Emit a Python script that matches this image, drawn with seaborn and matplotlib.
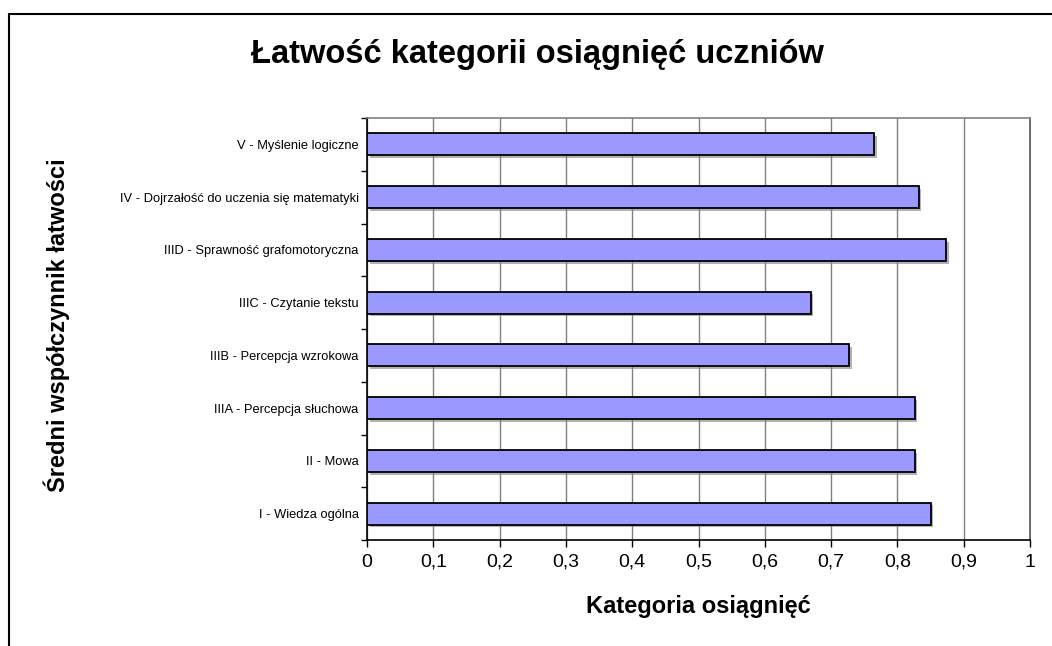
import matplotlib
matplotlib.use("Agg")
import matplotlib.pyplot as plt
import matplotlib.patheffects as pe
from matplotlib.lines import Line2D
from matplotlib.ticker import FixedLocator, FuncFormatter
import seaborn as sns
import pandas as pd
import numpy as np

categories = [
    "I - Wiedza ogólna",
    "II - Mowa",
    "IIIA - Percepcja słuchowa",
    "IIIB - Percepcja wzrokowa",
    "IIIC - Czytanie tekstu",
    "IIID - Sprawność grafomotoryczna",
    "IV - Dojrzałość do uczenia się matematyki",
    "V - Myślenie logiczne",
]
values = [0.850, 0.826, 0.826, 0.727, 0.669, 0.874, 0.832, 0.765]
x_ticks = [0, 0.1, 0.2, 0.3, 0.4, 0.5, 0.6, 0.7, 0.8, 0.9, 1]

title = "Łatwość kategorii osiągnięć uczniów"
xlabel = "Kategoria osiągnięć"
ylabel = "Średni współczynnik łatwości"

sns.set_theme(style="white")
plt.rcParams['font.family'] = ['Liberation Sans', 'DejaVu Sans']
plt.rcParams['text.color'] = 'black'
plt.rcParams['xtick.color'] = 'black'
plt.rcParams['ytick.color'] = 'black'

df = pd.DataFrame({"cat": categories, "val": values})
order = categories[::-1]

fig = plt.figure(figsize=(10.52, 6.46), dpi=100)
ax = fig.add_axes([367/1052, 1-540/646, (1030-367)/1052, (540-118)/646])

sns.barplot(data=df, x="val", y="cat", order=order, orient="h",
            color="#9999FF", saturation=1, width=0.42,
            edgecolor="black", linewidth=1.3, ax=ax, zorder=3)
for p in ax.patches:
    p.set_path_effects([pe.SimplePatchShadow(offset=(2, -2), shadow_rgbFace="#808080", alpha=0.6),
                        pe.Normal()])

ax.set_xlim(0, 1)
ax.set_ylim(len(categories) - 0.5, -0.5)
ax.set_xticks(x_ticks)
ax.xaxis.set_major_formatter(FuncFormatter(lambda v, p: ("%g" % v).replace(".", ",")))
ax.tick_params(axis="x", direction="out", length=5, width=1, color="black",
               labelsize=14, pad=5, bottom=True, labelcolor="black")
ax.grid(axis="x", color="#808080", linewidth=1, zorder=0)
ax.grid(axis="y", visible=False)
ax.set_axisbelow(True)

ax.tick_params(axis="y", which="major", length=0, pad=6, labelcolor="black")
ax.yaxis.set_minor_locator(FixedLocator(np.arange(-0.5, len(categories), 1.0)))
ax.tick_params(axis="y", which="minor", direction="out", length=4, width=1,
               color="black", left=True)
for lbl in ax.get_yticklabels():
    lbl.set_fontsize(9.3)
    lbl.set_color("black")

for s in ["top", "right"]:
    ax.spines[s].set_visible(True)
    ax.spines[s].set_color("#808080")
    ax.spines[s].set_linewidth(1.2)
ax.spines["right"].set_color("#555555")
for s in ["left", "bottom"]:
    ax.spines[s].set_color("black")
    ax.spines[s].set_linewidth(1.2)

ax.set_xlabel("")
ax.set_ylabel("")
fig.text(698/1052, 1-606/646, xlabel, ha="center", va="center",
         fontsize=17, fontweight="bold", color="black")
fig.text(57/1052, 1-325/646, ylabel, ha="center", va="center",
         rotation=90, fontsize=17, fontweight="bold", color="black")
fig.text(537/1052, 1-55/646, title, ha="center", va="center",
         fontsize=23.5, fontweight="bold", color="black")

x0 = 8.5/1052
y0 = 1 - 13.5/646
fig.lines.append(Line2D([x0, x0], [0, y0], transform=fig.transFigure,
                        color="black", linewidth=1.5))
fig.lines.append(Line2D([x0, 1], [y0, y0], transform=fig.transFigure,
                        color="black", linewidth=1.5))

fig.savefig("out.png", dpi=100, facecolor="white")
